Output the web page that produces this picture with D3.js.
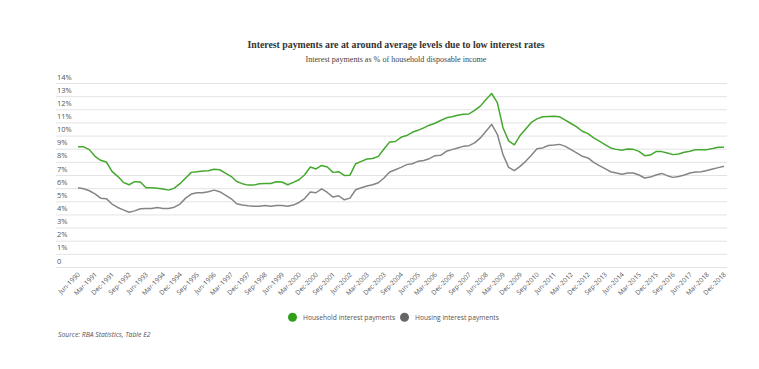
<!DOCTYPE html>
<html>
<head>
<meta charset="utf-8">
<script src="https://cdn.jsdelivr.net/npm/d3@7"></script>
<style>
  html, body { margin: 0; padding: 0; background: #fff; }
  svg { display: block; }
</style>
</head>
<body>
<svg id="chart" width="759" height="369"></svg>
<script>
// ---- Data ----
const startYear = 1990, startQuarterMonth = 5; // Jun-1990, quarterly to Dec-2018
const monthNames = ["Jan","Feb","Mar","Apr","May","Jun","Jul","Aug","Sep","Oct","Nov","Dec"];

const household = [
  9.14, 9.14, 8.93, 8.42, 8.12, 7.99, 7.28, 6.90, 6.44, 6.26,
  6.49, 6.47, 6.03, 6.03, 6.00, 5.93, 5.85, 6.00, 6.34, 6.77,
  7.20, 7.25, 7.30, 7.32, 7.43, 7.40, 7.15, 6.90, 6.51, 6.34,
  6.23, 6.23, 6.34, 6.36, 6.36, 6.49, 6.47, 6.26, 6.44, 6.64,
  7.02, 7.61, 7.46, 7.73, 7.61, 7.20, 7.25, 6.97, 6.99, 7.86,
  8.04, 8.22, 8.25, 8.42, 8.98, 9.52, 9.55, 9.87, 10.00, 10.25,
  10.40, 10.59, 10.79, 10.94, 11.15, 11.35, 11.43, 11.55, 11.63, 11.65,
  11.91, 12.24, 12.75, 13.20, 12.50, 10.60, 9.60, 9.30, 10.00, 10.50,
  11.00, 11.27, 11.43, 11.45, 11.47, 11.43, 11.17, 10.92, 10.66, 10.33,
  10.15, 9.82, 9.57, 9.31, 9.06, 8.95, 8.88, 8.98, 8.95, 8.80,
  8.47, 8.52, 8.78, 8.78, 8.68, 8.55, 8.60, 8.73, 8.80, 8.93,
  8.93, 8.93, 9.01, 9.11, 9.11
];

const housing = [
  6.03, 5.95, 5.80, 5.57, 5.24, 5.20, 4.79, 4.53, 4.35, 4.17,
  4.27, 4.43, 4.45, 4.45, 4.53, 4.45, 4.45, 4.55, 4.79, 5.24,
  5.55, 5.65, 5.65, 5.73, 5.85, 5.73, 5.47, 5.21, 4.81, 4.71,
  4.66, 4.63, 4.63, 4.68, 4.63, 4.68, 4.68, 4.63, 4.71, 4.91,
  5.21, 5.70, 5.65, 5.95, 5.67, 5.32, 5.42, 5.11, 5.24, 5.88,
  6.03, 6.16, 6.26, 6.41, 6.77, 7.23, 7.40, 7.58, 7.79, 7.86,
  8.04, 8.11, 8.24, 8.47, 8.50, 8.80, 8.93, 9.06, 9.18, 9.23,
  9.44, 9.82, 10.33, 10.85, 10.10, 8.55, 7.58, 7.33, 7.66, 8.04,
  8.50, 9.00, 9.06, 9.24, 9.28, 9.33, 9.18, 8.93, 8.68, 8.42,
  8.30, 7.96, 7.71, 7.48, 7.25, 7.15, 7.05, 7.15, 7.15, 7.00,
  6.77, 6.84, 7.00, 7.12, 6.95, 6.82, 6.89, 7.00, 7.15, 7.23,
  7.25, 7.35, 7.46, 7.56, 7.66
];

const xTickLabels = [
  "Jun-1990","Mar-1991","Dec-1991","Sep-1992","Jun-1993","Mar-1994","Dec-1994",
  "Sep-1995","Jun-1996","Mar-1997","Dec-1997","Sep-1998","Jun-1999","Mar-2000",
  "Dec-2000","Sep-2001","Jun-2002","Mar-2003","Dec-2003","Sep-2004","Jun-2005",
  "Mar-2006","Dec-2006","Sep-2007","Jun-2008","Mar-2009","Dec-2009","Sep-2010",
  "Jun-2011","Mar-2012","Dec-2012","Sep-2013","Jun-2014","Mar-2015","Dec-2015",
  "Sep-2016","Jun-2017","Mar-2018","Dec-2018"
];

const yTicks = [0,1,2,3,4,5,6,7,8,9,10,11,12,13,14];

const seriesNames = ["Household interest payments", "Housing interest payments"];

// quarter categories
const quarters = household.map((_, i) => {
  const m = startQuarterMonth + 3 * i;
  return monthNames[m % 12] + "-" + (startYear + Math.floor(m / 12));
});

// ---- Chart ----
const svg = d3.select("#chart");
const sansFont = "'Open Sans', 'DejaVu Sans', sans-serif";
const serifFont = "'Liberation Serif', 'DejaVu Serif', serif";

svg.append("text")
  .attr("x", 396).attr("y", 48)
  .attr("text-anchor", "middle")
  .style("font-family", serifFont)
  .style("font-weight", "bold")
  .style("font-size", "9.8px")
  .style("fill", "#333")
  .text("Interest payments are at around average levels due to low interest rates");

svg.append("text")
  .attr("x", 396).attr("y", 61.5)
  .attr("text-anchor", "middle")
  .style("font-family", serifFont)
  .style("font-size", "8.1px")
  .style("fill", "#444")
  .text("Interest payments as % of household disposable income");

const x = d3.scalePoint().domain(quarters).range([78, 724]);
const y = d3.scaleLinear().domain([0, 14]).range([267, 83]);

// y grid + labels
const yAxis = svg.append("g")
  .attr("transform", "translate(56,0)")
  .call(d3.axisRight(y).tickValues(yTicks).tickSize(671)
    .tickFormat(d => d === 0 ? "0" : d + "%"));
yAxis.select(".domain").remove();
yAxis.selectAll(".tick line").attr("stroke", "#e3e3e3").attr("stroke-width", 1);
yAxis.selectAll(".tick text")
  .attr("x", 1).attr("dy", -4)
  .style("text-anchor", "start")
  .style("font-family", sansFont)
  .style("font-size", "7.5px")
  .style("fill", "#555");

// x axis labels
const xAxis = svg.append("g")
  .attr("transform", "translate(0,267)")
  .call(d3.axisBottom(x).tickValues(xTickLabels).tickSize(0));
xAxis.select(".domain").remove();
xAxis.selectAll(".tick text")
  .attr("x", 0).attr("y", 0).attr("dy", 0)
  .attr("transform", "translate(2,8) rotate(-45)")
  .style("text-anchor", "end")
  .style("font-family", sansFont)
  .style("font-size", "6.6px")
  .style("fill", "#555");

// lines
const line = d3.line()
  .x((d, i) => x(quarters[i]))
  .y(d => y(d));

svg.append("path")
  .datum(housing)
  .attr("d", line)
  .attr("fill", "none")
  .attr("stroke", "#858585")
  .attr("stroke-width", 1.5)
  .attr("stroke-linejoin", "round");

svg.append("path")
  .datum(household)
  .attr("d", line)
  .attr("fill", "none")
  .attr("stroke", "#45a82e")
  .attr("stroke-width", 1.5)
  .attr("stroke-linejoin", "round");

// legend
const legendItems = [
  { name: seriesNames[0], color: "#2f9e19", cx: 292.5, tx: 303 },
  { name: seriesNames[1], color: "#666666", cx: 404.5, tx: 415 }
];
const lg = svg.append("g");
legendItems.forEach(it => {
  lg.append("circle").attr("cx", it.cx).attr("cy", 317.3).attr("r", 4.5).attr("fill", it.color);
  lg.append("text").attr("x", it.tx).attr("y", 319.8)
    .style("font-family", sansFont).style("font-size", "6.7px").style("fill", "#555")
    .text(it.name);
});

// source
svg.append("text")
  .attr("x", 58).attr("y", 337)
  .style("font-family", sansFont)
  .style("font-style", "italic")
  .style("font-size", "6.8px")
  .style("fill", "#555")
  .text("Source: RBA Statistics, Table E2");
</script>
</body>
</html>
